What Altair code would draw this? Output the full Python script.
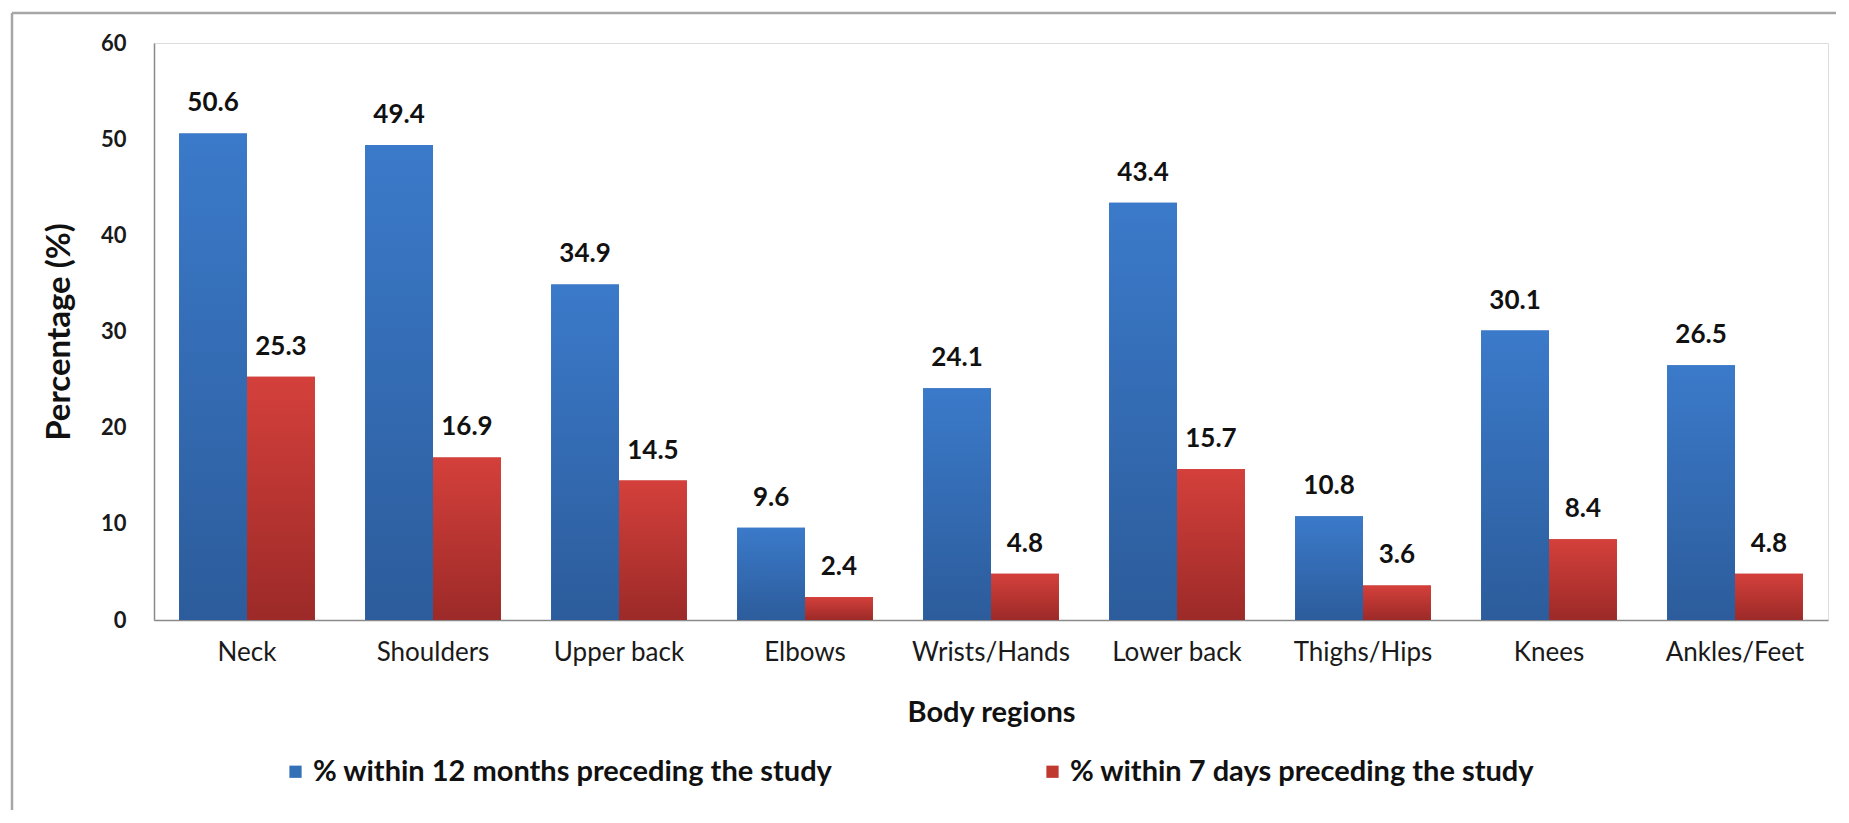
import altair as alt
import pandas as pd

regions = ["Neck", "Shoulders", "Upper back", "Elbows", "Wrists/Hands",
           "Lower back", "Thighs/Hips", "Knees", "Ankles/Feet"]
months12 = [50.6, 49.4, 34.9, 9.6, 24.1, 43.4, 10.8, 30.1, 26.5]
days7 = [25.3, 16.9, 14.5, 2.4, 4.8, 15.7, 3.6, 8.4, 4.8]
series = ["% within 12 months preceding the study",
          "% within 7 days preceding the study"]
y_ticks = [0, 10, 20, 30, 40, 50, 60]

rows = []
for r, a, b in zip(regions, months12, days7):
    rows.append({"region": r, "series": series[0], "value": a})
    rows.append({"region": r, "series": series[1], "value": b})
df = pd.DataFrame(rows)

FONT = "Lato"
W, H = 1674, 577

blue_grad = {"gradient": "linear", "x1": 0, "y1": 0, "x2": 0, "y2": 1,
             "stops": [{"offset": 0, "color": "#3b7aca"},
                       {"offset": 1, "color": "#2c5c9b"}]}
red_grad = {"gradient": "linear", "x1": 0, "y1": 0, "x2": 0, "y2": 1,
            "stops": [{"offset": 0, "color": "#d4403b"},
                      {"offset": 1, "color": "#9c2a28"}]}

x_enc = alt.X("region:N", sort=regions,
              scale=alt.Scale(paddingInner=0.27, paddingOuter=0.135),
              axis=alt.Axis(title="Body regions", labelAngle=0, labelFontSize=26,
                            labelFont=FONT, labelColor="#1a1a1a", labelPadding=19,
                            ticks=False, domainColor="#8a8a8a", domainWidth=1.5,
                            titleFont=FONT, titleFontSize=29, titleFontWeight="bold",
                            titleColor="#111111", titlePadding=33))
xo_enc = alt.XOffset("series:N", sort=series)
y_enc = alt.Y("value:Q", scale=alt.Scale(domain=[0, 60], nice=False),
              axis=alt.Axis(title="Percentage (%)", values=y_ticks, grid=False,
                            ticks=False, labelFontSize=22, labelFontWeight="bold",
                            labelFont=FONT, labelColor="#1a1a1a", labelPadding=28,
                            domainColor="#8a8a8a", domainWidth=1.5,
                            titleFont=FONT, titleFontSize=33, titleFontWeight="bold",
                            titleColor="#111111", titlePadding=24))

base = alt.Chart(df)

legend_bars = base.mark_bar().encode(
    x=x_enc, xOffset=xo_enc, y=y_enc,
    color=alt.Color("series:N", sort=series,
                    scale=alt.Scale(domain=series, range=["#3470b8", "#c0392f"]),
                    legend=alt.Legend(title=None, orient="none", direction="horizontal",
                                      legendX=127, legendY=714, symbolType="square",
                                      symbolSize=150, labelFont=FONT, labelFontSize=29,
                                      labelFontWeight="bold", labelColor="#111111",
                                      labelLimit=0, columnPadding=205, labelOffset=3,
                                      padding=0, symbolStrokeWidth=0))
)

blue_bars = base.transform_filter(alt.datum.series == series[0]).mark_bar(fill=blue_grad).encode(
    x=x_enc, xOffset=xo_enc, y=y_enc)
red_bars = base.transform_filter(alt.datum.series == series[1]).mark_bar(fill=red_grad).encode(
    x=x_enc, xOffset=xo_enc, y=y_enc)

labels = base.mark_text(font=FONT, fontSize=26, fontWeight="bold", color="#111111",
                        baseline="alphabetic", dy=-22).encode(
    x=x_enc, xOffset=xo_enc, y=y_enc, text=alt.Text("value:Q", format=".1f"))

border_top = alt.Chart(pd.DataFrame({"a": [0]})).mark_rule(color="#a6a6a6", strokeWidth=2.5).encode(
    x=alt.value(-142), x2=alt.value(W + 200), y=alt.value(-30))
border_left = alt.Chart(pd.DataFrame({"a": [0]})).mark_rule(color="#a6a6a6", strokeWidth=2.5).encode(
    x=alt.value(-142), y=alt.value(-30), y2=alt.value(H + 400))

chart = alt.layer(border_top, border_left, legend_bars, blue_bars, red_bars, labels).properties(
    width=W, height=H,
    padding={"left": 146, "top": 35, "right": 8, "bottom": 190},
    autosize=alt.AutoSizeParams(type="none"),
).configure_view(stroke=None).configure(background="white")

chart.save("out.html", embed_options={"renderer": "svg", "actions": False})
